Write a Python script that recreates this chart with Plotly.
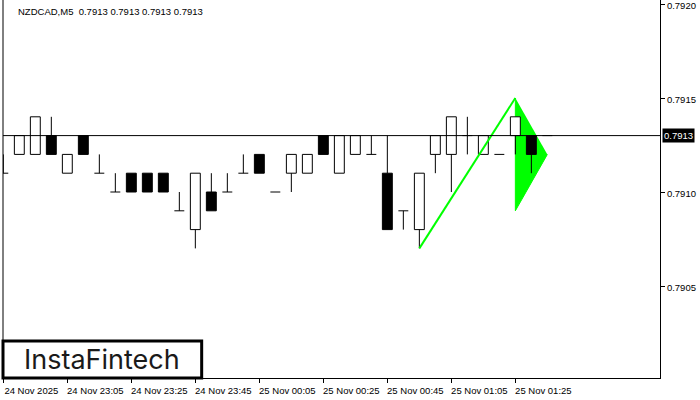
import plotly.graph_objects as go

# ---- data (M5 bars, index 0 = 24 Nov 22:45) ----
open_ = [0.7911, 0.7912, 0.7912, 0.7913, 0.7911, 0.7913, 0.7911, 0.7910, 0.7911, 0.7911,
         0.7911, 0.7909, 0.7908, 0.7910, 0.7910, 0.7911, 0.7912, 0.7910, 0.7911, 0.7911,
         0.7913, 0.7911, 0.7912, 0.7912, 0.7911, 0.7909, 0.7908, 0.7912, 0.7912, 0.7913,
         0.7912, 0.7912, 0.7913, 0.7913, 0.7913]
high = [0.7912, 0.7913, 0.7914, 0.7914, 0.7912, 0.7913, 0.7912, 0.7911, 0.7911, 0.7911,
        0.7911, 0.7910, 0.7911, 0.7911, 0.7911, 0.7912, 0.7912, 0.7910, 0.7912, 0.7912,
        0.7913, 0.7913, 0.7913, 0.7913, 0.7913, 0.7909, 0.7911, 0.7913, 0.7914, 0.7914,
        0.7913, 0.7912, 0.7914, 0.7913, 0.7913]
low = [0.7911, 0.7912, 0.7912, 0.7912, 0.7911, 0.7912, 0.7911, 0.7910, 0.7910, 0.7910,
       0.7910, 0.7909, 0.7907, 0.7909, 0.7910, 0.7911, 0.7911, 0.7910, 0.7910, 0.7911,
       0.7912, 0.7911, 0.7912, 0.7912, 0.7908, 0.7908, 0.7907, 0.7911, 0.7910, 0.7912,
       0.7912, 0.7912, 0.7912, 0.7911, 0.7913]
close = [0.7911, 0.7913, 0.7914, 0.7912, 0.7912, 0.7912, 0.7911, 0.7910, 0.7910, 0.7910,
         0.7910, 0.7909, 0.7911, 0.7909, 0.7910, 0.7911, 0.7911, 0.7910, 0.7912, 0.7912,
         0.7912, 0.7913, 0.7913, 0.7912, 0.7908, 0.7909, 0.7911, 0.7913, 0.7914, 0.7913,
         0.7913, 0.7912, 0.7914, 0.7912, 0.7913]

current_price = 0.7913
header_text = "NZDCAD,M5  0.7913 0.7913 0.7913 0.7913"

# pennant pattern (bar index, price)
pole_x = [26, 32]
pole_y = [0.7907, 0.7915]
flag_x = [32, 32, 34]
flag_y = [0.7915, 0.7909, 0.7912]

x_tick_pos = [0, 4, 8, 12, 16, 20, 24, 28, 32]
x_tick_labels = ["24 Nov 2025", "24 Nov 23:05", "24 Nov 23:25", "24 Nov 23:45",
                 "25 Nov 00:05", "25 Nov 00:25", "25 Nov 00:45", "25 Nov 01:05",
                 "25 Nov 01:25"]
y_tick_vals = [0.7905, 0.7910, 0.7915, 0.7920]
y_tick_labels = ["0.7905", "0.7910", "0.7915", "0.7920"]

# ---- build geometry from data ----
HW = 0.31  # half body width in bar units
wx, wy = [], []
upx, upy, dnx, dny = [], [], [], []
for k, (o, h, l, c) in enumerate(zip(open_, high, low, close)):
    top, bot = max(o, c), min(o, c)
    if h - top > 1e-9:
        wx += [k, k, None]; wy += [h, top, None]
    if bot - l > 1e-9:
        wx += [k, k, None]; wy += [bot, l, None]
    if abs(o - c) < 1e-9:
        wx += [k - HW, k + HW, None]; wy += [o, o, None]
    elif c > o:
        upx += [k - HW, k + HW, k + HW, k - HW, k - HW, None]
        upy += [bot, bot, top, top, bot, None]
    else:
        dnx += [k - HW, k + HW, k + HW, k - HW, k - HW, None]
        dny += [bot, bot, top, top, bot, None]

FONT = "Liberation Sans"
FS = 9.5
fig = go.Figure()

fig.add_trace(go.Scatter(x=flag_x, y=flag_y, mode="lines", fill="toself",
                         fillcolor="#00ff00", line=dict(color="#00ff00", width=1),
                         hoverinfo="skip"))
fig.add_trace(go.Scatter(x=upx, y=upy, mode="lines", fill="toself", fillcolor="white",
                         line=dict(color="black", width=1), hoverinfo="skip"))
fig.add_trace(go.Scatter(x=dnx, y=dny, mode="lines", fill="toself", fillcolor="black",
                         line=dict(color="black", width=1), hoverinfo="skip"))
fig.add_trace(go.Scatter(x=wx, y=wy, mode="lines",
                         line=dict(color="black", width=1), hoverinfo="skip"))
fig.add_trace(go.Scatter(x=pole_x, y=pole_y, mode="lines",
                         line=dict(color="#00ff00", width=2), hoverinfo="skip"))

fig.add_hline(y=current_price, line=dict(color="black", width=1))

# current price label on right axis
fig.add_annotation(xref="paper", x=1, xanchor="left", xshift=2, y=current_price,
                   yref="y", text="0.7913", showarrow=False, bgcolor="black",
                   font=dict(family=FONT, size=FS, color="white"), borderpad=1)

# header
fig.add_annotation(xref="paper", yref="paper", x=0, y=1, xanchor="left", yanchor="top",
                   xshift=13, yshift=-4, text=header_text, showarrow=False,
                   font=dict(family=FONT, size=FS, color="black"))

# logo box
fig.add_shape(type="rect", xref="paper", yref="paper", x0=0, x1=0.3024, y0=0, y1=0.098,
              line=dict(color="black", width=3), fillcolor="white", layer="above")
fig.add_annotation(xref="paper", yref="paper", x=0.1512, y=0.049, xanchor="center",
                   yanchor="middle", text="InstaFintech", showarrow=False,
                   font=dict(family="Inter", size=27, color="#1a1a1a"))

fig.update_layout(
    width=700, height=400,
    margin=dict(l=3, r=40, t=0, b=22, autoexpand=False),
    paper_bgcolor="white", plot_bgcolor="white",
    showlegend=False,
    xaxis=dict(range=[-0.02, 41.04], showgrid=False, zeroline=False, automargin=False,
               tickmode="array", tickvals=x_tick_pos, ticktext=x_tick_labels,
               ticks="outside", ticklen=4, tickcolor="black",
               ticklabelshift=28, ticklabelstandoff=0, ticklabeloverflow="allow",
               tickfont=dict(family=FONT, size=FS, color="black"),
               showline=True, linecolor="black", linewidth=1, mirror=False),
    yaxis=dict(range=[0.79001064, 0.79202128], side="right", showgrid=False,
               zeroline=False, automargin=False, tickmode="array", tickvals=y_tick_vals,
               ticktext=y_tick_labels, ticks="outside", ticklen=4, tickcolor="black",
               ticklabeloverflow="allow", ticklabelshift=2,
               tickfont=dict(family=FONT, size=FS, color="black"),
               showline=True, linecolor="black", linewidth=1),
)
# left border line
fig.add_shape(type="line", xref="paper", yref="paper", x0=0, x1=0, y0=0, y1=1,
              line=dict(color="black", width=1))

fig.write_html("out.html", config={"displayModeBar": False},
               post_script="document.body.style.margin='0';document.body.style.overflow='hidden';")
